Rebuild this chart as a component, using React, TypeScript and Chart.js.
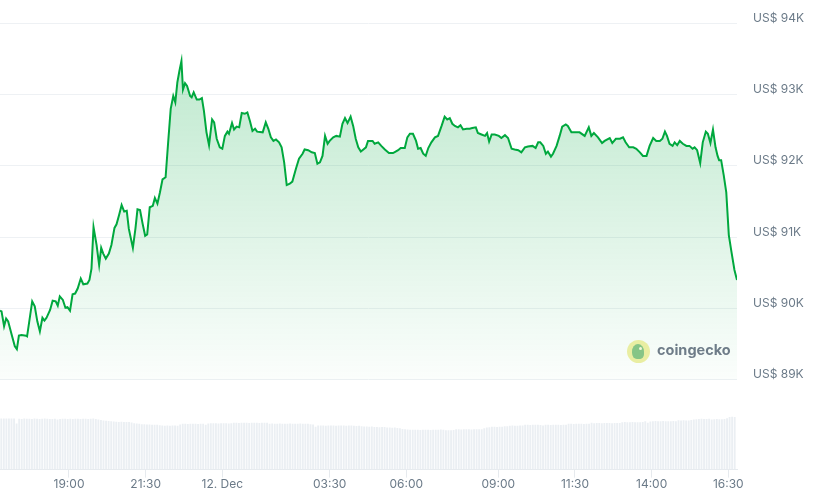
import React, { useEffect, useRef } from "react";
import { Chart, registerables } from "chart.js";

Chart.register(...registerables);

// Minutes since 11 Dec 16:45 (24-hour window)
const PRICE_MINUTES = [
  0, 3, 8, 12, 16, 23, 29, 33, 37, 42,
  51, 53, 63, 68, 73, 78, 83, 87, 91, 98,
  103, 109, 113, 117, 123, 128, 132, 137, 142, 147,
  152, 158, 163, 171, 175, 179, 183, 189, 194, 198,
  202, 207, 213, 218, 224, 228, 233, 238, 243, 248,
  252, 260, 265, 269, 274, 279, 284, 288, 293, 299,
  303, 308, 313, 318, 324, 329, 334, 339, 343, 347,
  351, 355, 358, 362, 366, 372, 375, 379, 385, 390,
  395, 399, 404, 409, 415, 419, 424, 430, 435, 440,
  445, 448, 454, 458, 463, 468, 473, 479, 484, 489,
  494, 499, 503, 514, 520, 525, 530, 535, 540, 546,
  551, 556, 561, 567, 572, 579, 585, 592, 596, 603,
  610, 616, 621, 626, 631, 636, 641, 645, 652, 658,
  665, 670, 675, 680, 686, 691, 696, 701, 706, 711,
  716, 720, 729, 733, 740, 746, 753, 761, 769, 774,
  779, 784, 792, 797, 802, 808, 814, 818, 823, 828,
  833, 838, 844, 851, 857, 864, 870, 875, 880, 885,
  890, 896, 901, 906, 913, 919, 924, 931, 935, 942,
  949, 953, 957, 962, 968, 976, 981, 988, 994, 1001,
  1007, 1014, 1020, 1027, 1033, 1042, 1048, 1053, 1057, 1063,
  1068, 1072, 1078, 1082, 1089, 1095, 1100, 1107, 1111, 1118,
  1125, 1131, 1134, 1144, 1152, 1157, 1162, 1170, 1178, 1183,
  1193, 1198, 1205, 1213, 1219, 1224, 1231, 1239, 1245, 1252,
  1258, 1265, 1271, 1278, 1284, 1291, 1296, 1301, 1305, 1310,
  1316, 1320, 1325, 1330, 1336, 1343, 1349, 1355, 1359, 1364,
  1370, 1375, 1381, 1385, 1390, 1395, 1400, 1404, 1407, 1411,
  1416, 1421, 1426, 1431, 1437, 1442,
];

const PRICES = [
  89970, 89960, 89750, 89860, 89820, 89630, 89470, 89430, 89620, 89630,
  89620, 89610, 90100, 90030, 89820, 89680, 89870, 89830, 89870, 89980,
  90110, 90100, 90040, 90170, 90120, 90010, 90020, 89970, 90200, 90210,
  90280, 90420, 90340, 90350, 90400, 90560, 91140, 90890, 90610, 90850,
  90770, 90700, 90770, 90890, 91130, 91180, 91310, 91450, 91360, 91370,
  91120, 90850, 91120, 91390, 91380, 91190, 91020, 91040, 91420, 91440,
  91550, 91470, 91630, 91810, 91840, 92330, 92800, 92980, 92890, 93170,
  93330, 93470, 93070, 93160, 93120, 92980, 92960, 93030, 92930, 92930,
  92950, 92770, 92470, 92290, 92650, 92610, 92380, 92260, 92240, 92420,
  92480, 92450, 92600, 92510, 92550, 92540, 92740, 92730, 92750, 92630,
  92490, 92520, 92480, 92470, 92610, 92520, 92400, 92350, 92370, 92330,
  92260, 92050, 91730, 91750, 91780, 91960, 92100, 92170, 92230, 92220,
  92190, 92180, 92030, 92050, 92140, 92420, 92310, 92350, 92400, 92420,
  92410, 92590, 92670, 92600, 92690, 92560, 92380, 92260, 92200, 92230,
  92260, 92350, 92350, 92310, 92330, 92280, 92230, 92180, 92180, 92200,
  92220, 92250, 92250, 92400, 92450, 92450, 92350, 92240, 92250, 92170,
  92140, 92250, 92330, 92400, 92420, 92560, 92690, 92650, 92670, 92590,
  92560, 92540, 92570, 92510, 92520, 92520, 92530, 92540, 92460, 92440,
  92420, 92460, 92340, 92440, 92440, 92420, 92390, 92430, 92390, 92240,
  92230, 92220, 92190, 92260, 92270, 92280, 92250, 92330, 92330, 92280,
  92170, 92200, 92130, 92170, 92280, 92420, 92550, 92580, 92560, 92470,
  92470, 92470, 92470, 92420, 92540, 92420, 92460, 92400, 92320, 92350,
  92390, 92320, 92380, 92380, 92400, 92330, 92260, 92260, 92240, 92190,
  92140, 92140, 92280, 92390, 92350, 92350, 92380, 92480, 92420, 92310,
  92280, 92330, 92290, 92350, 92310, 92280, 92280, 92240, 92260, 92220,
  92040, 92330, 92480, 92450, 92320, 92510, 92260, 92140, 92080, 92080,
  91870, 91630, 91030, 90800, 90540, 90400,
];

// Volume (billions USD), one bar per 5 minutes
const VOLUMES_B = [
  51.3, 51.3, 51.3, 51.3, 51.3, 51.3, 46.3,
  51.2, 51.0, 51.3, 51.1, 51.2, 51.0, 51.3, 51.2, 51.0, 51.1, 51.3, 51.2, 51.0, 50.9, 51.1,
  50.3,
  51.0, 51.1, 51.2, 51.0, 51.1, 51.0, 51.2, 51.1, 51.0, 51.2, 51.1, 51.0, 51.2,
  51.3, 50.8, 50.3, 50.0, 49.4, 49.2, 48.8, 48.6, 48.3, 48.1,
  48.0, 48.1, 47.9, 48.0, 47.8, 47.3, 46.7, 46.3, 46.1,
  45.6, 45.5, 45.4, 45.3, 45.2, 45.1, 45.2,
  44.5, 44.3, 44.2, 44.3, 44.2, 44.3, 44.4, 44.2, 45.3,
  46.0, 46.1, 45.9, 46.0, 46.1, 46.0, 45.9, 46.0, 46.1, 45.0,
  46.4, 46.6, 46.5, 46.6, 46.4, 46.5, 46.6, 46.5, 46.4, 46.5,
  47.0, 47.1, 46.9, 47.0, 47.1, 47.0, 46.9, 47.0, 47.1, 47.0, 46.9, 47.0, 47.1, 47.0,
  46.2, 46.3, 46.1, 46.2, 46.3, 46.2, 46.1, 46.2, 46.3, 46.2, 46.1, 46.2, 46.3, 46.2, 46.1, 46.2,
  45.7, 45.3, 43.0,
  44.3, 44.4, 44.3, 44.2, 44.3, 44.4, 44.3, 44.2, 44.3, 44.4, 44.3, 44.2, 44.3, 44.3,
  44.0, 43.9, 44.0, 43.5, 43.4, 43.3, 43.2, 43.3,
  42.9, 42.8, 42.7, 42.8, 42.8, 42.4, 42.3, 42.2, 42.3,
  41.8, 41.6, 40.9, 40.5, 40.3,
  40.2, 40.0, 40.1, 40.0, 39.9, 40.0, 40.1, 40.0, 39.9, 40.0, 40.1,
  40.2, 40.3, 40.1, 39.7, 39.6, 39.7, 39.8,
  40.5, 40.6, 40.4, 40.5, 40.6, 40.5, 40.4, 40.5, 40.6, 40.5, 40.7,
  41.7, 42.3, 42.7, 43.0, 43.1, 42.9, 43.0, 43.1, 43.5, 43.7,
  44.2, 44.3, 44.1, 44.2, 44.3, 44.4,
  45.0, 45.1, 44.9, 45.0, 45.1, 45.0, 44.9, 44.3,
  45.0, 45.1, 44.9, 45.0, 45.1, 45.0, 44.9, 45.0, 45.1,
  46.0, 46.1, 45.9, 46.0, 46.1, 46.0, 45.9, 46.0, 46.1,
  47.0, 46.6,
  46.8, 46.9, 46.7, 46.8, 46.9, 46.8, 46.7, 46.8, 46.9, 46.8,
  47.7, 47.8, 47.6, 47.7, 47.8, 47.7, 47.6, 47.7, 47.8,
  48.7, 47.0, 48.4,
  48.7, 48.8, 48.6, 48.7, 48.8, 48.7, 48.6, 48.7, 48.8, 48.7,
  49.7, 49.5, 49.6, 49.4, 49.5, 50.0, 50.3, 50.7,
  51.0, 51.1, 50.9, 51.0, 51.1, 50.3,
  50.7, 50.8, 50.6, 50.7, 50.8, 51.7,
  53.0, 53.1, 53.0,
];
const VOLUME_FIRST_MINUTE = 2.5;
const VOLUME_STEP_MINUTES = 5;

const X_MIN_MINUTE = 0;
const X_MAX_MINUTE = 1442;
const X_TICK_MINUTES = [135, 285, 435, 645, 795, 975, 1125, 1275, 1425];
const X_TICK_LABELS = ["19:00", "21:30", "12. Dec", "03:30", "06:00", "09:00", "11:30", "14:00", "16:30"];

const Y_TICK_VALUES = [89000, 90000, 91000, 92000, 93000, 94000];
const Y_TICK_LABELS = ["US$ 89K", "US$ 90K", "US$ 91K", "US$ 92K", "US$ 93K", "US$ 94K"];

const LINE_GREEN = "#00a83e";
const TEXT_GRAY = "#6b7a88";

export default function App() {
  const canvasRef = useRef<HTMLCanvasElement>(null);

  useEffect(() => {
    const canvas = canvasRef.current;
    if (!canvas) return;
    const chart = new Chart(canvas, {
      type: "line",
      data: {
        datasets: [
          {
            type: "line",
            data: PRICE_MINUTES.map((m, i) => ({ x: m, y: PRICES[i] })),
            yAxisID: "y",
            borderColor: LINE_GREEN,
            borderWidth: 2,
            pointRadius: 0,
            tension: 0,
            fill: { value: 89000 },
            backgroundColor: (ctx: any) => {
              const ch = ctx.chart;
              if (!ch.chartArea) return "rgba(0,168,62,0.12)";
              const ys = ch.scales.y;
              const g = ch.ctx.createLinearGradient(0, ys.getPixelForValue(93500), 0, ys.getPixelForValue(89000));
              g.addColorStop(0, "rgba(0,168,62,0.25)");
              g.addColorStop(1, "rgba(0,168,62,0.015)");
              return g;
            },
            order: 0,
          } as any,
          {
            type: "bar",
            data: VOLUMES_B.map((v, i) => ({ x: VOLUME_FIRST_MINUTE + i * VOLUME_STEP_MINUTES, y: v })),
            yAxisID: "yv",
            backgroundColor: "#ebeff3",
            barPercentage: 0.72,
            categoryPercentage: 1,
            order: 1,
          } as any,
        ],
      },
      options: {
        animation: false,
        responsive: false,
        maintainAspectRatio: false,
        layout: { padding: { top: 20, bottom: 5, left: 0, right: 0 } },
        plugins: { legend: { display: false }, tooltip: { enabled: false } },
        scales: {
          x: {
            type: "linear",
            min: X_MIN_MINUTE,
            max: X_MAX_MINUTE,
            offset: false,
            afterBuildTicks: (s: any) => {
              s.ticks = X_TICK_MINUTES.map((v) => ({ value: v }));
            },
            ticks: {
              autoSkip: false,
              maxRotation: 0,
              padding: 0,
              color: TEXT_GRAY,
              font: { family: "Inter", size: 12 },
              callback: (v: any) => {
                const i = X_TICK_MINUTES.indexOf(Number(v));
                return i >= 0 ? X_TICK_LABELS[i] : "";
              },
            },
            grid: { offset: false, drawOnChartArea: false, drawTicks: true, tickLength: 8, color: "#e6eaee" },
            border: { display: true, color: "#e6eaee" },
          },
          y: {
            type: "linear",
            position: "right",
            min: 87742,
            max: 94000,
            afterBuildTicks: (s: any) => {
              s.ticks = Y_TICK_VALUES.map((v) => ({ value: v }));
            },
            afterFit: (s: any) => {
              s.width = 80;
            },
            ticks: {
              padding: 16,
              labelOffset: -5,
              color: TEXT_GRAY,
              font: { family: "Inter", size: 12 },
              callback: (v: any) => {
                const i = Y_TICK_VALUES.indexOf(Number(v));
                return i >= 0 ? Y_TICK_LABELS[i] : "";
              },
            },
            grid: { color: "#eef1f4", drawTicks: false },
            border: { display: false },
          },
          yv: {
            type: "linear",
            display: false,
            min: 0,
            max: 449,
          },
        },
      } as any,
    });
    return () => chart.destroy();
  }, []);

  return (
    <div style={{ position: "fixed", left: 0, top: 0, width: 817, height: 497, background: "#fff" }}>
      <canvas ref={canvasRef} width={817} height={497} style={{ display: "block" }} />
      <div
        style={{
          position: "absolute",
          left: 627,
          top: 340,
          width: 23,
          height: 23,
          borderRadius: "50%",
          background: "#e9eea2",
          pointerEvents: "none",
        }}
      >
        <div
          style={{
            position: "absolute",
            left: 5,
            top: 4,
            width: 12,
            height: 15,
            borderRadius: "55% 55% 35% 45%",
            background: "#86c586",
          }}
        />
        <div
          style={{
            position: "absolute",
            left: 12,
            top: 7,
            width: 3,
            height: 3,
            borderRadius: "50%",
            background: "#f4f6d8",
          }}
        />
      </div>
      <div
        style={{
          position: "absolute",
          left: 657,
          top: 341,
          fontFamily: "Inter",
          fontWeight: 700,
          fontSize: 14.5,
          lineHeight: "18px",
          color: "#6e7c88",
          pointerEvents: "none",
        }}
      >
        coingecko
      </div>
    </div>
  );
}
